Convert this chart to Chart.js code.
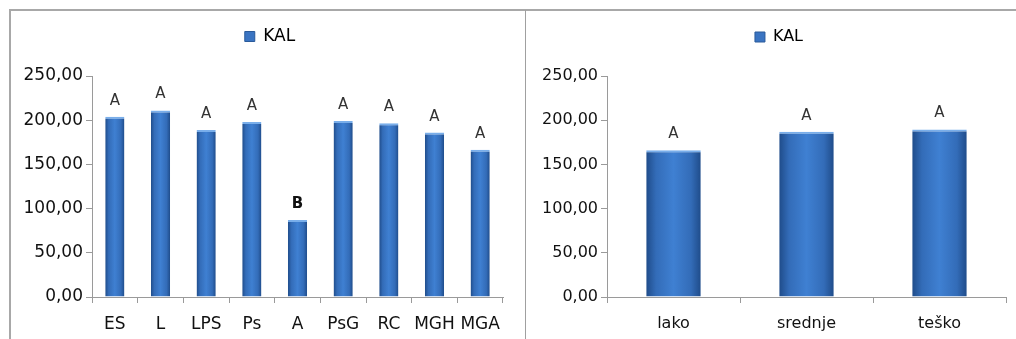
<!DOCTYPE html>
<html>
<head>
<meta charset="utf-8">
<title>KAL</title>
<script src="https://cdn.jsdelivr.net/npm/chart.js"></script>
<style>
  html, body { margin: 0; padding: 0; background: #fff; width: 1016px; height: 339px; overflow: hidden; }
  #marco { position: absolute; left: 9px; top: 9px; width: 1007px; height: 330px; border-top: 2px solid #a8a8a8; border-left: 2px solid #a8a8a8; }
  #divisor { position: absolute; left: 525px; top: 10px; width: 1px; height: 329px; background: #a0a0a0; }
  canvas { position: absolute; top: 11px; }
  #grafico1 { left: 11px; }
  #grafico2 { left: 526px; }
</style>
</head>
<body>
<div id="marco"></div>
<div id="divisor"></div>
<canvas id="grafico1" width="514" height="328"></canvas>
<canvas id="grafico2" width="490" height="328"></canvas>
<script>
// --- Datos ---
const serie = "KAL";
const categoriasTratamiento = ["ES", "L", "LPS", "Ps", "A", "PsG", "RC", "MGH", "MGA"];
const valoresTratamiento = [204, 211, 189, 198, 87, 199, 196.5, 186, 166.5];
const letrasTratamiento = ["A", "A", "A", "A", "B", "A", "A", "A", "A"];

const categoriasNivel = ["lako", "srednje", "teško"];
const valoresNivel = [166, 187, 189.5];
const letrasNivel = ["A", "A", "A"];

const ejeMin = 0;
const ejeMax = 250;
const ejePaso = 50;

// --- Utilidades ---
Chart.defaults.font.family = '"DejaVu Sans", sans-serif';
Chart.defaults.color = "#111";

function formatoComa(valor) {
    return valor.toFixed(2).replace(".", ",");
}

// degradado horizontal en cada barra
function colorBarra(n, pct) {
    return function (ctx) {
        const chart = ctx.chart;
        const escala = chart.scales.x;
        if (!chart.chartArea || !escala) return "#3a74c2";
        const cx = escala.getPixelForValue(ctx.dataIndex);
        const w = escala.width / n * pct;
        if (!isFinite(cx)) return "#3a74c2";
        const g = chart.ctx.createLinearGradient(cx - w / 2, 0, cx + w / 2, 0);
        g.addColorStop(0, "#1f4c8a");
        g.addColorStop(0.18, "#336cb8");
        g.addColorStop(0.5, "#3f80d2");
        g.addColorStop(0.82, "#336cb8");
        g.addColorStop(1, "#1f4c8a");
        return g;
    };
}

function pluginLetras(letras, tamano) {
    return {
        id: "letras",
        afterDatasetsDraw(chart) {
            const ctx = chart.ctx;
            chart.getDatasetMeta(0).data.forEach(function (barra, i) {
                const letra = letras[i];
                ctx.save();
                ctx.font = (letra === "B" ? "bold " : "") + tamano + 'px "DejaVu Sans"';
                ctx.fillStyle = letra === "B" ? "#111" : "#333";
                ctx.textAlign = "center";
                ctx.textBaseline = "alphabetic";
                ctx.fillText(letra, barra.x, barra.y - 12);
                ctx.restore();
            });
        }
    };
}

// espacio extra bajo la leyenda y pequeño desplazamiento a la derecha
function pluginLeyenda(extra, desplazamiento) {
    return {
        id: "ajusteLeyenda",
        afterInit(chart) {
            const fitOriginal = chart.legend.fit;
            chart.legend.fit = function () {
                fitOriginal.bind(chart.legend)();
                this.height += extra;
            };
        },
        afterLayout(chart) {
            chart.legend.left += desplazamiento;
            chart.legend.right += desplazamiento;
        }
    };
}

function crearGrafico(id, categorias, valores, letras, cfg) {
    const lienzo = document.getElementById(id);
    return new Chart(lienzo, {
        type: "bar",
        data: {
            labels: categorias,
            datasets: [{
                label: serie,
                data: valores,
                backgroundColor: colorBarra(categorias.length, cfg.pct),
                borderColor: "#79aeea",
                borderWidth: { top: 2, left: 0, right: 0, bottom: 0 },
                categoryPercentage: 1,
                barPercentage: cfg.pct
            }]
        },
        options: {
            responsive: false,
            animation: false,
            layout: { padding: { top: cfg.arriba, right: cfg.derecha, left: 0, bottom: 0 } },
            plugins: {
                tooltip: { enabled: false },
                legend: {
                    position: "top",
                    labels: {
                        boxWidth: 10,
                        boxHeight: 10,
                        padding: 10,
                        color: "#111",
                        font: { size: cfg.fuente },
                        generateLabels: function () {
                            return [{ text: serie, fillStyle: "#3a74c2", strokeStyle: "#2a5a9a", lineWidth: 1, datasetIndex: 0 }];
                        }
                    }
                }
            },
            scales: {
                x: {
                    grid: { display: true, drawOnChartArea: false, drawTicks: true, tickLength: 6, offset: true, color: "#9a9a9a" },
                    border: { display: true, color: "#9a9a9a" },
                    ticks: { padding: 11, font: { size: cfg.fuente }, color: "#111", maxRotation: 0, autoSkip: false },
                    afterFit: function (escala) { escala.height = 42; }
                },
                y: {
                    min: ejeMin,
                    max: ejeMax,
                    grid: { display: true, drawOnChartArea: false, drawTicks: true, tickLength: 6, color: "#9a9a9a" },
                    border: { display: true, color: "#9a9a9a" },
                    ticks: {
                        stepSize: ejePaso,
                        padding: 3,
                        font: { size: cfg.fuente },
                        color: "#111",
                        callback: function (v) { return formatoComa(v); }
                    },
                    afterFit: function (escala) { escala.width = 81; }
                }
            }
        },
        plugins: [pluginLetras(letras, 15), pluginLeyenda(cfg.espacio, 13)]
    });
}

// --- Inicialización ---
crearGrafico("grafico1", categoriasTratamiento, valoresTratamiento, letrasTratamiento,
    { pct: 0.42, fuente: 17, arriba: 7, derecha: 22, espacio: 21 });
crearGrafico("grafico2", categoriasNivel, valoresNivel, letrasNivel,
    { pct: 0.41, fuente: 16, arriba: 8, derecha: 10, espacio: 21 });
</script>
</body>
</html>
